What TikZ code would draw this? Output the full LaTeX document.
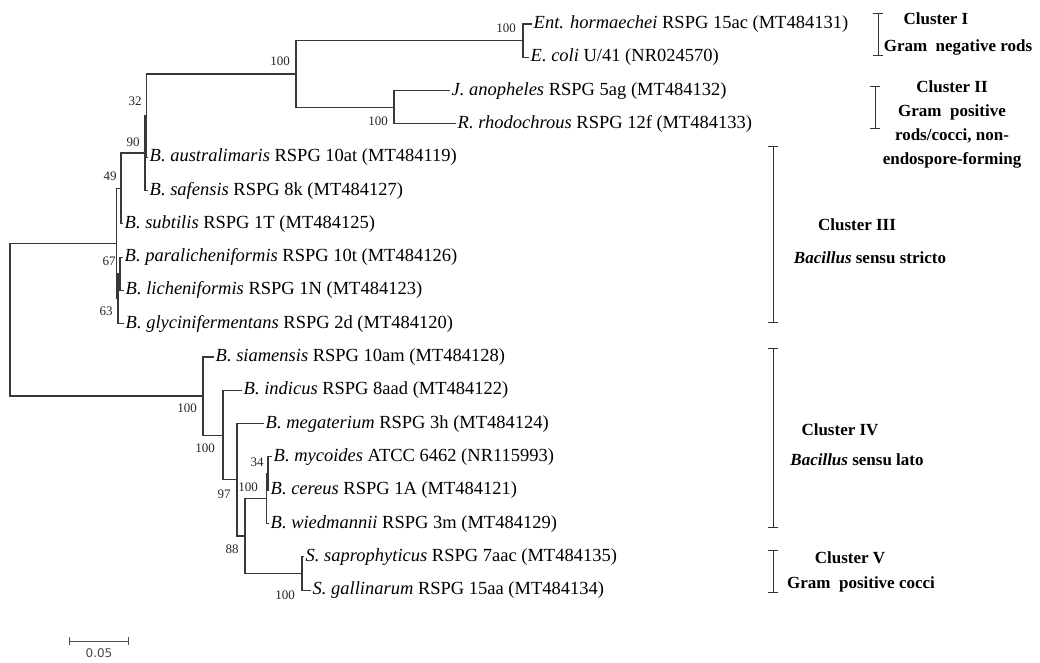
\documentclass[tikz,border=0pt]{standalone}
\usepackage{fontspec}
\setmainfont{Liberation Serif}
\newfontfamily\barfont{DejaVu Sans}
\usetikzlibrary{arrows.meta}
\begin{document}
\begin{tikzpicture}[x=1pt,y=-1pt,
  br/.style={draw=black!78, line width=1.1pt},
  leaf/.style={anchor=west, inner sep=1.5pt, font=\fontsize{18.5}{20}\selectfont, text height=13pt, text depth=4pt},
  bs/.style={font=\fontsize{13}{14}\selectfont, inner sep=0pt, text=black!85},
  clu/.style={font=\bfseries\fontsize{17}{24}\selectfont, inner sep=0pt, align=center},
  brk/.style={draw=black!80, line width=0.9pt, {Bar[width=10pt,line width=0.9pt]}-{Bar[width=10pt,line width=0.9pt]}}
]
\useasboundingbox (0,0) rectangle (1040,662);
\fill[white] (0,0) rectangle (1040,662);

% ---- leaves ----
\node[leaf] (L1)  at (532,24.0)  {\textit{Ent. hormaechei} RSPG 15ac (MT484131)};
\node[leaf] (L2)  at (529,57.3)  {\textit{E. coli} U/41 (NR024570)};
\node[leaf] (L3)  at (450,90.6)  {\textit{J. anopheles} RSPG 5ag (MT484132)};
\node[leaf] (L4)  at (456,123.9) {\textit{R. rhodochrous} RSPG 12f (MT484133)};
\node[leaf] (L5)  at (148,157.2) {\textit{B. australimaris} RSPG 10at (MT484119)};
\node[leaf] (L6)  at (148,190.5) {\textit{B. safensis} RSPG 8k (MT484127)};
\node[leaf] (L7)  at (123,223.8) {\textit{B. subtilis} RSPG 1T (MT484125)};
\node[leaf] (L8)  at (123,257.1) {\textit{B. paralicheniformis} RSPG 10t (MT484126)};
\node[leaf] (L9)  at (124,290.4) {\textit{B. licheniformis} RSPG 1N (MT484123)};
\node[leaf] (L10) at (124,323.7) {\textit{B. glycinifermentans} RSPG 2d (MT484120)};
\node[leaf] (L11) at (214,357.0) {\textit{B. siamensis} RSPG 10am (MT484128)};
\node[leaf] (L12) at (242,390.3) {\textit{B. indicus} RSPG 8aad (MT484122)};
\node[leaf] (L13) at (264,423.6) {\textit{B. megaterium} RSPG 3h (MT484124)};
\node[leaf] (L14) at (272,456.9) {\textit{B. mycoides} ATCC 6462 (NR115993)};
\node[leaf] (L15) at (269,490.2) {\textit{B. cereus} RSPG 1A (MT484121)};
\node[leaf] (L16) at (269,523.5) {\textit{B. wiedmannii} RSPG 3m (MT484129)};
\node[leaf] (L17) at (304,556.8) {\textit{S. saprophyticus} RSPG 7aac (MT484135)};
\node[leaf] (L18) at (311,590.1) {\textit{S. gallinarum} RSPG 15aa (MT484134)};

% ---- internal nodes ----
\coordinate (nEnt) at (523,40.65);
\coordinate (nJR)  at (394,107.25);
\coordinate (nBig) at (296,73.95);
\coordinate (n32)  at (146.5,115.6);
\coordinate (n90)  at (145,153.0);
\coordinate (n49)  at (121,188.4);
\coordinate (n67)  at (120,273.75);
\coordinate (n63)  at (118,298.7);
\coordinate (nUp)  at (116.5,243.55);
\coordinate (nC34) at (268,473.55);
\coordinate (nC100) at (266.5,498.5);
\coordinate (nSta) at (302,573.45);
\coordinate (n88)  at (245,536.0);
\coordinate (n97)  at (237,479.8);
\coordinate (nB)   at (223,435.05);
\coordinate (nA)   at (203,396.0);
\coordinate (root) at (10,319.8);

% ---- branches ----
\draw[br] (nEnt) |- (L1.west);  \draw[br] (nEnt) |- (L2.west);
\draw[br] (nJR) |- (L3.west);   \draw[br] (nJR) |- (L4.west);
\draw[br] (nBig) |- (nEnt);     \draw[br] (nBig) |- (nJR);
\draw[br] (n32) |- (nBig);      \draw[br] (n32) |- (L5.west);
\draw[br] (n90) |- (n32);       \draw[br] (n90) |- (L6.west);
\draw[br] (n49) |- (n90);       \draw[br] (n49) |- (L7.west);
\draw[br] (n67) |- (L8.west);   \draw[br] (n67) |- (L9.west);
\draw[br] (n63) |- (n67);       \draw[br] (n63) |- (L10.west);
\draw[br] (nUp) |- (n49);       \draw[br] (nUp) |- (n63);
\draw[br] (root) |- (nUp);      \draw[br] (root) |- (nA);
\draw[br] (nA) |- (L11.west);   \draw[br] (nA) |- (nB);
\draw[br] (nB) |- (L12.west);   \draw[br] (nB) |- (n97);
\draw[br] (n97) |- (L13.west);  \draw[br] (n97) |- (n88);
\draw[br] (n88) |- (nC100);     \draw[br] (n88) |- (nSta);
\draw[br] (nC100) |- (nC34);    \draw[br] (nC100) |- (L16.west);
\draw[br] (nC34) |- (L14.west); \draw[br] (nC34) |- (L15.west);
\draw[br] (nSta) |- (L17.west); \draw[br] (nSta) |- (L18.west);

% ---- bootstrap values ----
\node[bs] (b1)  at (506,28)  {100};
\node[bs] (b2)  at (280,61)  {100};
\node[bs] (b3)  at (378,121) {100};
\node[bs] (b4)  at (135,101) {32};
\node[bs] (b5)  at (133,142) {90};
\node[bs] (b6)  at (110,176) {49};
\node[bs] (b7)  at (109,261) {67};
\node[bs] (b8)  at (106,311) {63};
\node[bs] (b9)  at (187,408) {100};
\node[bs] (b10) at (205,448) {100};
\node[bs] (b11) at (224,494) {97};
\node[bs] (b12) at (248,487) {100};
\node[bs] (b13) at (257,462) {34};
\node[bs] (b14) at (232,549) {88};
\node[bs] (b15) at (285,595) {100};

% ---- cluster brackets ----
\coordinate (c1t) at (878,13);  \coordinate (c1b) at (878,56);
\coordinate (c2t) at (875,86);  \coordinate (c2b) at (875,129);
\coordinate (c3t) at (773,146); \coordinate (c3b) at (773,323);
\coordinate (c4t) at (773,348); \coordinate (c4b) at (773,528);
\coordinate (c5t) at (773,550); \coordinate (c5b) at (773,593);
\draw[brk] (c1t) -- (c1b);
\draw[brk] (c2t) -- (c2b);
\draw[brk] (c3t) -- (c3b);
\draw[brk] (c4t) -- (c4b);
\draw[brk] (c5t) -- (c5b);

\node[clu] (k1a) at (936,19)  {Cluster I};
\node[clu] (k1b) at (958,47)  {Gram\ \ negative rods};
\node[clu] (k2)  at (952,124) {Cluster II\\Gram\ \ positive\\rods/cocci, non-\\endospore-forming};
\node[clu] (k3a) at (857,225) {Cluster III};
\node[clu] (k3b) at (870,258) {\textit{Bacillus} sensu stricto};
\node[clu] (k4a) at (840,430) {Cluster IV};
\node[clu] (k4b) at (857,460) {\textit{Bacillus} sensu lato};
\node[clu] (k5a) at (850,558) {Cluster V};
\node[clu] (k5b) at (861,584) {Gram\ \ positive cocci};

% ---- scale bar ----
\coordinate (s1) at (69,641); \coordinate (s2) at (129,641);
\draw[draw=black!70, line width=1pt, {Bar[width=8pt,line width=1pt]}-{Bar[width=8pt,line width=1pt]}] (s1) -- (s2);
\node[font=\barfont\fontsize{12}{13}\selectfont, text=black!70, inner sep=0pt] (sl) at (99,653) {0.05};
\end{tikzpicture}
\end{document}
